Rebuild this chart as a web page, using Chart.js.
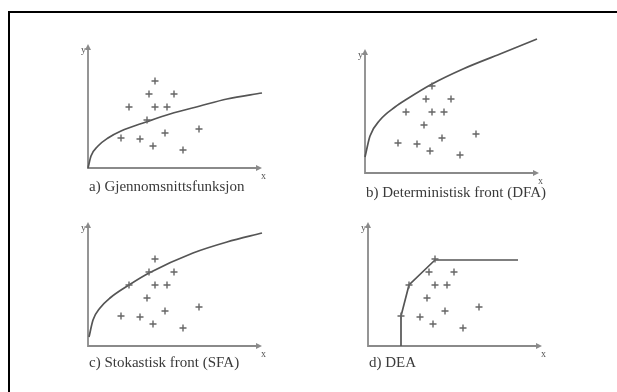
<!DOCTYPE html>
<html>
<head>
<meta charset="utf-8">
<script src="https://cdn.jsdelivr.net/npm/chart.js@4.4.1/dist/chart.umd.min.js"></script>
<style>
  body { margin: 0; background: #fff; width: 617px; height: 392px; overflow: hidden; position: relative; }
  #frame { position: absolute; left: 8px; top: 11px; width: 640px; height: 420px;
           border-left: 2.5px solid #000; border-top: 2.5px solid #000; }
  canvas { position: absolute; }
</style>
</head>
<body>
<div id="frame"></div>
<canvas id="panelA" width="220" height="180" style="left:60px;top:30px"></canvas>
<canvas id="panelB" width="260" height="185" style="left:330px;top:30px"></canvas>
<canvas id="panelC" width="220" height="185" style="left:60px;top:205px"></canvas>
<canvas id="panelD" width="260" height="185" style="left:330px;top:205px"></canvas>
<script>
// same observations in all four panels
const obsX = [6.7, 6.1, 8.6, 4.1, 6.7, 7.9, 5.9, 3.3, 5.2, 7.7, 11.1, 6.5, 9.5];
const obsY = [8.7, 7.4, 7.4, 6.1, 6.1, 6.1, 4.8, 3.0, 2.9, 3.5, 3.9, 2.2, 1.8];

// a) average function
const avgX = [0, 0.3, 1.0, 2.0, 3.3, 5.8, 8.2, 11.2, 13.9, 17.4];
const avgY = [0, 1.2, 2.2, 3.0, 3.7, 4.6, 5.4, 6.2, 6.9, 7.5];
// b) deterministic frontier
const dfaX = [0, 0.5, 1.5, 3.0, 4.2, 6.7, 9.8, 13.5, 17.2];
const dfaY = [1.6, 3.7, 5.3, 6.6, 7.4, 8.9, 10.4, 11.9, 13.4];
// c) stochastic frontier
const sfaX = [0.1, 0.5, 1.2, 2.2, 4.1, 6.1, 10.5, 13.9, 17.4];
const sfaY = [0.9, 2.6, 3.8, 4.8, 6.1, 7.3, 9.3, 10.4, 11.3];
// d) DEA envelope
const deaX = [3.3, 3.3, 4.1, 6.7, 15.0];
const deaY = [0, 3.0, 6.1, 8.6, 8.6];

const captions = ['a) Gjennomsnittsfunksjon', 'b) Deterministisk front (DFA)',
                  'c) Stokastisk front (SFA)', 'd) DEA'];
const axisMaxX = 17;
const axisMaxY = 12;

const toPts = (xs, ys) => xs.map((x, i) => ({ x: x, y: ys[i] }));

// draws the two axes with arrowheads, axis names and the caption
const axesPlugin = {
  id: 'axes',
  beforeDatasetsDraw(chart) {
    const ctx = chart.ctx;
    const sx = chart.scales.x, sy = chart.scales.y;
    const x0 = sx.getPixelForValue(0), y0 = sy.getPixelForValue(0);
    const x1 = sx.getPixelForValue(axisMaxX), y1 = sy.getPixelForValue(axisMaxY);
    ctx.save();
    ctx.strokeStyle = '#8a8a8a';
    ctx.fillStyle = '#8a8a8a';
    ctx.lineWidth = 1.8;
    ctx.beginPath();
    ctx.moveTo(x0, y1);
    ctx.lineTo(x0, y0);
    ctx.lineTo(x1, y0);
    ctx.stroke();
    // arrowheads
    ctx.beginPath();
    ctx.moveTo(x1 + 4, y0);
    ctx.lineTo(x1 - 2, y0 - 3);
    ctx.lineTo(x1 - 2, y0 + 3);
    ctx.closePath();
    ctx.fill();
    ctx.beginPath();
    ctx.moveTo(x0, y1 - 4);
    ctx.lineTo(x0 - 3, y1 + 2);
    ctx.lineTo(x0 + 3, y1 + 2);
    ctx.closePath();
    ctx.fill();
    ctx.restore();
  },
  afterDraw(chart, args, opts) {
    const ctx = chart.ctx;
    const sx = chart.scales.x, sy = chart.scales.y;
    const x0 = sx.getPixelForValue(0), y0 = sy.getPixelForValue(0);
    const x1 = sx.getPixelForValue(axisMaxX), y1 = sy.getPixelForValue(axisMaxY);
    ctx.save();
    ctx.fillStyle = '#555';
    ctx.font = '10px "Liberation Serif", serif';
    ctx.textBaseline = 'middle';
    ctx.textAlign = 'right';
    ctx.fillText('y', x0 - 2, y1 + 2);
    ctx.textAlign = 'left';
    ctx.fillText('x', x1 + 3, y0 + 8);
    ctx.fillStyle = '#3a3a3a';
    ctx.font = '15px "Liberation Serif", serif';
    ctx.fillText(opts.caption, x0 + 1, y0 + opts.gap);
    ctx.restore();
  }
};

function makePanel(id, caption, gap, curveX, curveY, smooth, pad) {
  const datasets = [
    {
      data: toPts(obsX, obsY),
      pointStyle: 'cross',
      pointRadius: 3.5,
      borderColor: '#666',
      borderWidth: 1.4,
      showLine: false
    },
    {
      data: toPts(curveX, curveY),
      showLine: true,
      pointRadius: 0,
      borderColor: '#555',
      borderWidth: 1.7,
      cubicInterpolationMode: smooth ? 'monotone' : 'default',
      tension: 0,
      clip: false
    }
  ];
  return new Chart(document.getElementById(id), {
    type: 'scatter',
    data: { datasets: datasets },
    options: {
      responsive: false,
      animation: false,
      layout: { padding: pad },
      scales: {
        x: { type: 'linear', min: 0, max: axisMaxX, display: false },
        y: { type: 'linear', min: 0, max: axisMaxY, display: false }
      },
      plugins: {
        legend: { display: false },
        tooltip: { enabled: false },
        axes: { caption: caption, gap: gap }
      }
    },
    plugins: [axesPlugin]
  });
}

makePanel('panelA', captions[0], 19, avgX, avgY, true, { left: 28, right: 22, top: 18, bottom: 42 });
makePanel('panelB', captions[1], 20, dfaX, dfaY, true, { left: 35, right: 55, top: 23, bottom: 42 });
makePanel('panelC', captions[2], 17, sfaX, sfaY, true, { left: 28, right: 22, top: 21, bottom: 44 });
makePanel('panelD', captions[3], 17, deaX, deaY, false, { left: 38, right: 52, top: 21, bottom: 44 });
</script>
</body>
</html>
